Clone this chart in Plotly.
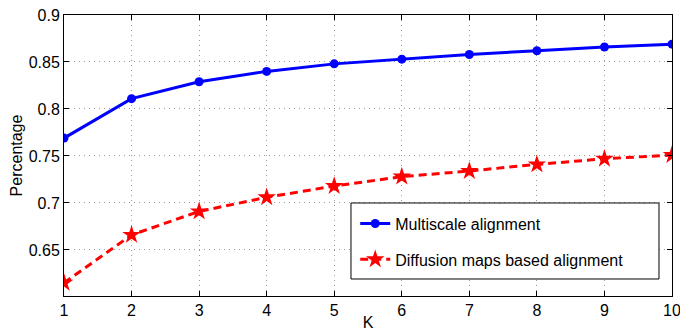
import plotly.graph_objects as go

k_values = [1, 2, 3, 4, 5, 6, 7, 8, 9, 10]
multiscale = [0.769, 0.811, 0.829, 0.840, 0.848, 0.853, 0.858, 0.862, 0.866, 0.869]
diffusion = [0.615, 0.666, 0.691, 0.706, 0.718, 0.728, 0.734, 0.741, 0.747, 0.751]
y_ticks = [0.65, 0.7, 0.75, 0.8, 0.85, 0.9]
y_tick_labels = ["0.65", "0.7", "0.75", "0.8", "0.85", "0.9"]

FONT = "Liberation Sans, Arial, Helvetica, sans-serif"

fig = go.Figure()
fig.add_trace(go.Scatter(
    x=k_values, y=multiscale, mode="lines+markers",
    name="Multiscale alignment", legendgroup="a",
    line=dict(color="#0000ff", width=3),
    marker=dict(symbol="circle", size=9, color="#0000ff"),
))
fig.add_trace(go.Scatter(
    x=k_values, y=diffusion, mode="lines+markers",
    name="Diffusion maps based alignment", legendgroup="b",
    line=dict(color="#ff0000", width=3, dash="8px,5px"),
    marker=dict(symbol="star", size=14, color="#ff0000"),
))

axis_common = dict(
    showline=True, linecolor="black", linewidth=1, mirror="ticks",
    ticks="inside", ticklen=5, tickcolor="black",
    showgrid=True, gridcolor="#9a9a9a", griddash="1px,4px", gridwidth=1,
    zeroline=False, tickfont=dict(family=FONT, size=16, color="black"),
    ticklabeloverflow="allow",
)

fig.update_xaxes(
    range=[1, 10], tickvals=k_values, ticktext=[str(k) for k in k_values],
    title=dict(text="K", font=dict(family=FONT, size=16, color="black"), standoff=0),
    **axis_common,
)
fig.update_yaxes(
    range=[0.601, 0.9], tickvals=y_ticks, ticktext=y_tick_labels,
    title=dict(text="Percentage", font=dict(family=FONT, size=16, color="black"), standoff=2),
    **axis_common,
)

# legend frame (MATLAB-style box)
fig.add_shape(
    type="rect", xref="paper", yref="paper",
    x0=0.472, x1=0.9786, y0=0.0605, y1=0.331,
    line=dict(color="black", width=1), fillcolor="white", layer="above",
)

fig.update_layout(
    width=680, height=331,
    margin=dict(l=64, r=8, t=15, b=35, autoexpand=False),
    plot_bgcolor="white", paper_bgcolor="white",
    font=dict(family=FONT, color="black"),
    legend=dict(
        x=0.479, y=0.318, xanchor="left", yanchor="top",
        borderwidth=0, bgcolor="rgba(0,0,0,0)",
        font=dict(family=FONT, size=16, color="black"),
        traceorder="grouped", tracegroupgap=12,
        itemwidth=30,
    ),
    showlegend=True,
)

fig.write_html(
    "out.html",
    config={"displayModeBar": False},
    post_script="document.body.style.margin='0';document.body.style.overflow='hidden';",
)
